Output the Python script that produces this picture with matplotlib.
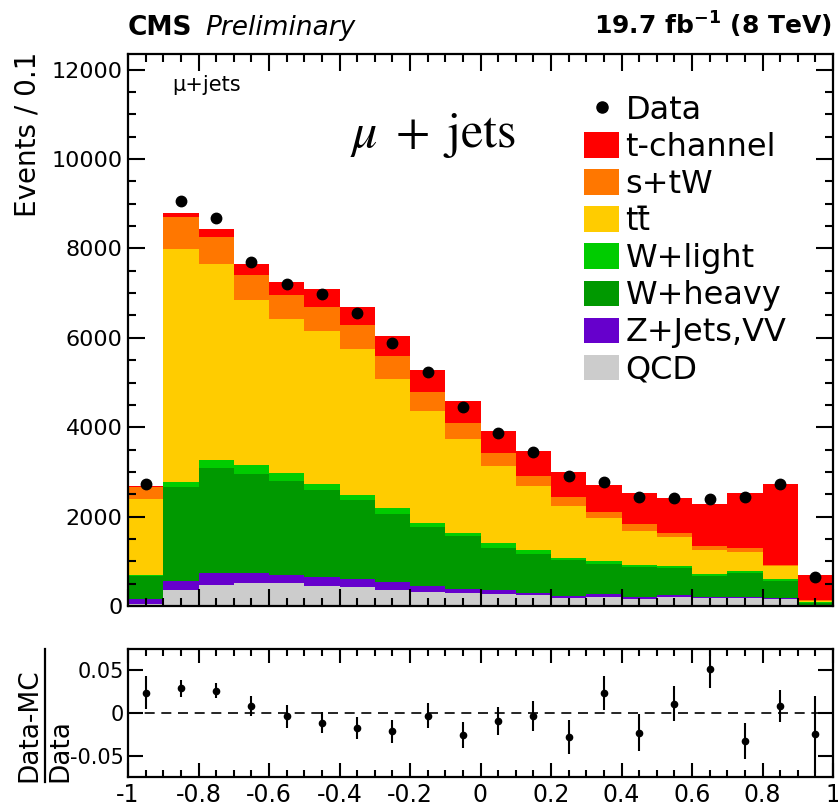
import numpy as np
import matplotlib
matplotlib.use("Agg")
import matplotlib.pyplot as plt
from matplotlib.lines import Line2D
from matplotlib.patches import Patch
from matplotlib.ticker import MultipleLocator

# binning of the discriminant, 20 bins from -1 to 1
edges = np.round(np.linspace(-1.0, 1.0, 21), 2)
centers = 0.5 * (edges[:-1] + edges[1:])

# stacked MC yields per bin
qcd = [40, 359, 471, 523, 509, 448, 433, 359, 321, 290, 269, 247, 187, 209, 157, 194, 172, 170, 149, 10]
zvv = [110, 201, 262, 210, 179, 202, 165, 179, 127, 84, 90, 52, 37, 60, 52, 45, 37, 39, 23, 10]
wheavy = [523, 2093, 2354, 2211, 2108, 1935, 1778, 1522, 1312, 1202, 934, 867, 796, 676, 666, 605, 467, 524, 396, 55]
wlight = [17, 112, 171, 202, 179, 150, 113, 140, 108, 53, 113, 90, 60, 68, 52, 53, 49, 45, 30, 20]
ttbar = [1710, 5232, 4387, 3699, 3453, 3415, 3251, 2882, 2504, 2115, 1718, 1419, 1147, 945, 761, 642, 531, 440, 299, 25]
stw = [260, 716, 621, 560, 529, 538, 538, 507, 411, 351, 299, 240, 210, 153, 150, 90, 89, 72, 15, 5]
tchan = [15, 89, 179, 240, 292, 397, 419, 449, 508, 485, 501, 560, 560, 591, 688, 781, 942, 1236, 1823, 563]

data = [2735, 9064, 8670, 7697, 7212, 6973, 6547, 5889, 5240, 4455,
        3872, 3437, 2905, 2768, 2445, 2420, 2391, 2437, 2735, 657]

# (Data-MC)/Data panel
ratio = [0.024, 0.029, 0.026, 0.0085, -0.004, -0.0115, -0.018, -0.0215, -0.003, -0.0255,
         -0.0095, -0.004, -0.028, 0.023, -0.023, 0.011, 0.051, -0.033, 0.0085, -0.025]
ratio_err = [0.019, 0.010, 0.009, 0.012, 0.013, 0.0125, 0.013, 0.0135, 0.0145, 0.0155,
             0.0165, 0.0175, 0.020, 0.020, 0.0215, 0.0205, 0.022, 0.021, 0.019, 0.045]

xtick_vals = [-1, -0.8, -0.6, -0.4, -0.2, 0, 0.2, 0.4, 0.6, 0.8, 1]
xtick_labels = ['-1', '-0.8', '-0.6', '-0.4', '-0.2', '0', '0.2', '0.4', '0.6', '0.8', '1']

plt.rcParams['axes.unicode_minus'] = False
plt.rcParams['mathtext.fontset'] = 'dejavusans'

W, H = 838., 805.
fig = plt.figure(figsize=(W / 100, H / 100), dpi=100)
ax = fig.add_axes([128 / W, 1 - 606 / H, (833 - 128) / W, (606 - 54) / H])
rax = fig.add_axes([128 / W, 1 - 777 / H, (833 - 128) / W, (777 - 649) / H])

comps = [(qcd, '#cccccc'), (zvv, '#6600cc'), (wheavy, '#009900'), (wlight, '#00cc00'),
         (ttbar, '#ffcc00'), (stw, '#ff7700'), (tchan, '#ff0000')]
bottom = np.zeros(len(centers))
for vals, col in comps:
    top = bottom + np.array(vals, dtype=float)
    ax.stairs(top, edges, baseline=bottom, fill=True, color=col, lw=0)
    bottom = top

ax.plot(centers, data, 'o', color='k', ms=7.5, zorder=5)

ax.set_xlim(-1, 1)
ax.set_ylim(0, 12350)
ax.xaxis.set_major_locator(MultipleLocator(0.2))
ax.xaxis.set_minor_locator(MultipleLocator(0.05))
ax.yaxis.set_major_locator(MultipleLocator(2000))
ax.yaxis.set_minor_locator(MultipleLocator(500))
ax.tick_params(which='both', direction='in', top=True, right=True, labelbottom=False,
               width=1.5, labelsize=16, pad=4)
ax.tick_params(which='major', length=12)
ax.tick_params(which='minor', length=6)
for s in ax.spines.values():
    s.set_linewidth(1.6)

# legend
labels = ['Data', 't-channel', 's+tW', u'tt\u0304', 'W+light', 'W+heavy', 'Z+Jets,VV', 'QCD']
handles = [Line2D([], [], marker='o', ls='', color='k', ms=8)]
for vals, col in comps[::-1]:
    handles.append(Patch(facecolor=col, edgecolor='none'))
ax.legend(handles, labels, loc='upper left', bbox_to_anchor=(584 / W, 1 - 95 / H),
          bbox_transform=fig.transFigure, frameon=False, fontsize=23, borderpad=0,
          borderaxespad=0, handlelength=1.1, handleheight=0.85, handletextpad=0.2,
          labelspacing=0.19)

fig.text(172 / W, 1 - 85 / H, u'\u03bc+jets', fontsize=15, va='center')
fig.text(350 / W, 1 - 135 / H, r'$\mu\;+\;\mathrm{jets}$', fontsize=36, va='center',
         math_fontfamily='stix')

# header
fig.text(128 / W, 1 - 35 / H, 'CMS', fontsize=19, weight='bold', va='baseline')
fig.text(205 / W, 1 - 35 / H, 'Preliminary', fontsize=19, style='italic', va='baseline')
fig.text(832 / W, 1 - 35 / H, r'19.7 fb$^{\mathbf{-1}}$ (8 TeV)', fontsize=18, weight='bold',
         ha='right', va='baseline')

fig.text(27 / W, 1 - 52 / H, 'Events / 0.1', rotation=90, fontsize=20, ha='center', va='top')

# ratio panel
rax.axhline(0, color='k', ls='--', lw=1.2, dashes=(6, 4))
rax.errorbar(centers, ratio, yerr=ratio_err, fmt='o', color='k', ms=4.5, elinewidth=1.5, capsize=0)
rax.set_xlim(-1, 1)
rax.set_ylim(-0.075, 0.075)
rax.set_xticks(xtick_vals)
rax.set_xticklabels(xtick_labels)
rax.xaxis.set_minor_locator(MultipleLocator(0.05))
rax.set_yticks([-0.05, 0, 0.05])
rax.set_yticklabels(['-0.05', '0', '0.05'])
rax.tick_params(which='both', direction='in', top=True, right=True, width=1.5, pad=4)
rax.tick_params(axis='x', which='major', length=10, labelsize=17)
rax.tick_params(axis='x', which='minor', length=5)
rax.tick_params(axis='y', which='major', length=11, labelsize=15, pad=3)
for s in rax.spines.values():
    s.set_linewidth(1.6)

fig.text(29 / W, 1 - 782 / H, 'Data-MC', rotation=90, fontsize=19, ha='center', va='bottom')
fig.text(60 / W, 1 - 782 / H, 'Data', rotation=90, fontsize=19, ha='center', va='bottom')
fig.add_artist(Line2D([45 / W, 45 / W], [1 - 782 / H, 1 - 649 / H], color='k', lw=1.6,
                      transform=fig.transFigure))

fig.savefig('out.png', dpi=100)
